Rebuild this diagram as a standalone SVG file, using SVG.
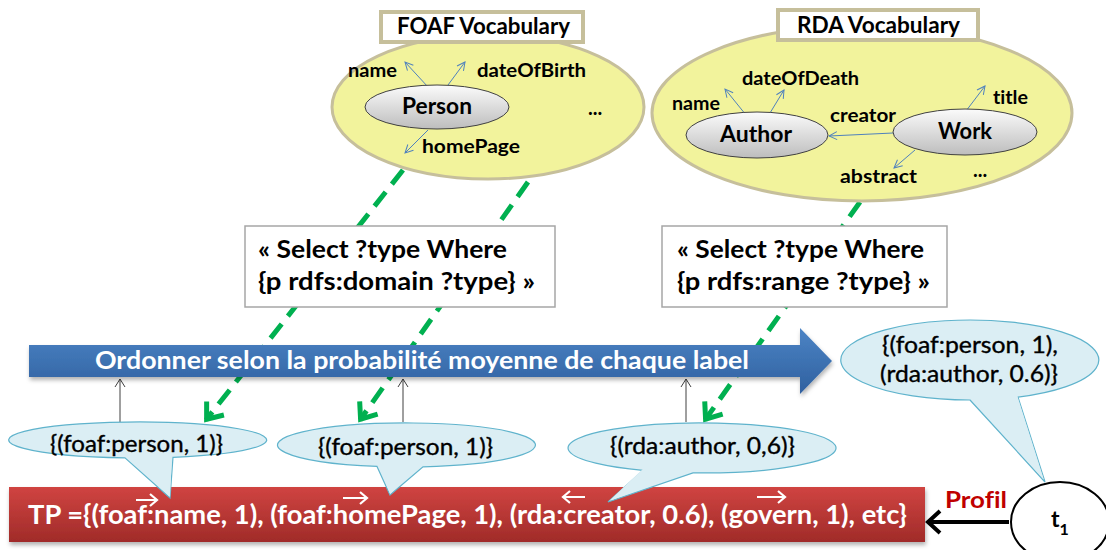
<svg xmlns="http://www.w3.org/2000/svg" width="1106" height="550" viewBox="0 0 1106 550">
<defs>
<style>
.t{font-family:Lato,"Liberation Sans",sans-serif;fill:#000;font-variant-ligatures:none}
.b{font-weight:bold}
.vocab{fill:#f2f39c;stroke:#c6bf9b;stroke-width:3}
.lab{fill:#fff;stroke:#c6bf9b;stroke-width:4}
.cls{fill:url(#gg);stroke:#404040;stroke-width:1}
.prop{font-size:19px;font-weight:bold}
.barr{fill:none;stroke:#4f81bd;stroke-width:1;marker-end:url(#ab)}
.gl{fill:none;stroke:#00b050;stroke-width:5;stroke-dasharray:18 10;marker-end:url(#ag)}
.kl{fill:none;stroke:#404040;stroke-width:1;marker-end:url(#ak)}
.qb{fill:#fff;stroke:#a6a6a6;stroke-width:1.5}
.qt{font-size:25px;font-weight:bold}
.bub{fill:#dbeef4;stroke:#5fb3cc;stroke-width:1.2}
.bt{font-size:23px;stroke:#000;stroke-width:0.35}
.wa{fill:none;stroke:#fff;stroke-width:2.2}
</style>
<linearGradient id="gg" x1="0" y1="0" x2="0" y2="1"><stop offset="0" stop-color="#fbfbfb"/><stop offset="1" stop-color="#bdbdbd"/></linearGradient>
<linearGradient id="blg" x1="0" y1="0" x2="0" y2="1"><stop offset="0" stop-color="#4c84c5"/><stop offset="1" stop-color="#2f609f"/></linearGradient>
<linearGradient id="rg" x1="0" y1="0" x2="0" y2="1"><stop offset="0" stop-color="#d04441"/><stop offset="1" stop-color="#a02b29"/></linearGradient>
<filter id="sh" x="-5%" y="-20%" width="110%" height="150%"><feDropShadow dx="1" dy="3" stdDeviation="2" flood-color="#000" flood-opacity="0.3"/></filter>
<marker id="ab" markerUnits="userSpaceOnUse" markerWidth="10" markerHeight="10" refX="9" refY="5" orient="auto"><path d="M1,1 L9,5 L1,9" fill="none" stroke="#4f81bd" stroke-width="1"/></marker>
<marker id="ak" markerUnits="userSpaceOnUse" markerWidth="10" markerHeight="12" refX="9" refY="6" orient="auto"><path d="M1,1 L9,6 L1,11" fill="none" stroke="#404040" stroke-width="1"/></marker>
<marker id="ag" markerUnits="userSpaceOnUse" markerWidth="26" markerHeight="28" refX="21" refY="14" orient="auto"><path d="M6,3 L20,14 L6,25" fill="none" stroke="#00b050" stroke-width="5" stroke-dasharray="none"/></marker>
</defs>

<g id="connectors">
<path class="gl" d="M403,170 L206,420"/>
<path class="gl" d="M528,182 L360,420"/>
<path class="gl" d="M860,202 L705,420"/>
<path class="kl" d="M120,422 L120,379"/>
<path class="kl" d="M403,422 L403,379"/>
<path class="kl" d="M686,422 L686,379"/>
<path d="M1009,522 L930,522" fill="none" stroke="#000" stroke-width="4"/>
<path d="M940,511 L928,522 L940,533" fill="none" stroke="#000" stroke-width="4"/>
</g>

<g id="foaf">
<ellipse class="vocab" cx="488" cy="107" rx="156" ry="72"/>
<rect class="lab" x="381" y="12" width="202" height="30"/>
<text class="t b" x="397" y="34" font-size="22" textLength="173" lengthAdjust="spacingAndGlyphs">FOAF Vocabulary</text>
<path class="barr" d="M428,87 L405,62"/>
<path class="barr" d="M448,85 L465,62"/>
<path class="barr" d="M428,130 L405,153"/>
<ellipse class="cls" cx="437" cy="107" rx="72" ry="22"/>
<text class="t b" x="402" y="114" font-size="22" textLength="70" lengthAdjust="spacingAndGlyphs">Person</text>
<text class="t prop" x="348" y="77" textLength="49" lengthAdjust="spacingAndGlyphs">name</text>
<text class="t prop" x="477" y="77" textLength="109" lengthAdjust="spacingAndGlyphs">dateOfBirth</text>
<text class="t prop" x="422" y="153" textLength="98" lengthAdjust="spacingAndGlyphs">homePage</text>
<text class="t b" x="588" y="115" font-size="20">...</text>
</g>

<g id="rda">
<ellipse class="vocab" cx="862" cy="113" rx="210" ry="88"/>
<rect class="lab" x="778" y="10" width="200" height="30"/>
<text class="t b" x="797" y="33" font-size="22" textLength="163" lengthAdjust="spacingAndGlyphs">RDA Vocabulary</text>
<path class="barr" d="M746,115 L725,89"/>
<path class="barr" d="M770,113 L784,90"/>
<path class="barr" d="M893,133 L829,136"/>
<path class="barr" d="M966,111 L985,86"/>
<path class="barr" d="M915,150 L894,168"/>
<ellipse class="cls" cx="757" cy="135" rx="71" ry="23"/>
<ellipse class="cls" cx="965" cy="132" rx="72" ry="23"/>
<text class="t b" x="720" y="142" font-size="22" textLength="72" lengthAdjust="spacingAndGlyphs">Author</text>
<text class="t b" x="938" y="139" font-size="22" textLength="54" lengthAdjust="spacingAndGlyphs">Work</text>
<text class="t prop" x="742" y="85" textLength="117" lengthAdjust="spacingAndGlyphs">dateOfDeath</text>
<text class="t prop" x="672" y="110" textLength="48" lengthAdjust="spacingAndGlyphs">name</text>
<text class="t prop" x="830" y="122" textLength="66" lengthAdjust="spacingAndGlyphs">creator</text>
<text class="t prop" x="993" y="104" textLength="35" lengthAdjust="spacingAndGlyphs">title</text>
<text class="t prop" x="840" y="183" textLength="77" lengthAdjust="spacingAndGlyphs">abstract</text>
<text class="t b" x="973" y="177" font-size="20">...</text>
</g>

<g id="query-domain">
<rect class="qb" x="245" y="226" width="310" height="81"/>
<text class="t qt" x="258" y="258" textLength="249" lengthAdjust="spacingAndGlyphs">« Select ?type Where</text>
<text class="t qt" x="258" y="290" textLength="277" lengthAdjust="spacingAndGlyphs">{p rdfs:domain ?type} »</text>
</g>

<g id="query-range">
<rect class="qb" x="662" y="226" width="285" height="81"/>
<text class="t qt" x="677" y="258" textLength="247" lengthAdjust="spacingAndGlyphs">« Select ?type Where</text>
<text class="t qt" x="677" y="290" textLength="253" lengthAdjust="spacingAndGlyphs">{p rdfs:range ?type} »</text>
</g>

<g id="order-arrow">
<path d="M29,345 L800,345 L800,328 L832,361 L800,394 L800,377 L29,377 Z" fill="url(#blg)" filter="url(#sh)"/>
<text class="t b" x="95" y="369" font-size="24" style="fill:#fff" textLength="654" lengthAdjust="spacingAndGlyphs">Ordonner selon la probabilité moyenne de chaque label</text>
</g>

<g id="tp">
<rect x="9" y="487" width="916" height="55" fill="url(#rg)" filter="url(#sh)"/>
<text class="t b" x="28" y="524" font-size="27" style="fill:#fff" textLength="879" lengthAdjust="spacingAndGlyphs">TP ={(foaf:name, 1), (foaf:homePage, 1), (rda:creator, 0.6), (govern, 1), etc}</text>
</g>

<g id="bubble-1">
<path class="bub" d="M125,457.9 L170,498 L173,457.3 A129,18 0 1 0 125,457.9 Z"/>
<path d="M126,456 L170,497 L172,456 Z" fill="#dbeef4"/>
<text class="t bt" x="50" y="452" textLength="173" lengthAdjust="spacingAndGlyphs">{(foaf:person, 1)}</text>
</g>

<g id="bubble-2">
<path class="bub" d="M377,466.4 L390,495 L423,466.8 A129,22 0 1 0 377,466.4 Z"/>
<path d="M378,464 L390,494 L422,464 Z" fill="#dbeef4"/>
<text class="t bt" x="318" y="455" textLength="175" lengthAdjust="spacingAndGlyphs">{(foaf:person, 1)}</text>
</g>

<g id="bubble-3">
<path class="bub" d="M643,470.4 L608,502 L693,472.9 A134,25 0 1 0 643,470.4 Z"/>
<path d="M644,468 L609,501 L692,470 Z" fill="#dbeef4"/>
<text class="t bt" x="610" y="454" textLength="185" lengthAdjust="spacingAndGlyphs">{(rda:author, 0,6)}</text>
</g>

<g id="bubble-profile">
<path class="bub" d="M970,400 L1045,482 L1018,397.1 A129,40 0 1 0 970,400 Z"/>
<path d="M971,397 L1044,480 L1017,395 Z" fill="#dbeef4"/>
<text class="t bt" x="882" y="353" textLength="176" lengthAdjust="spacingAndGlyphs">{(foaf:person, 1),</text>
<text class="t bt" x="880" y="382" textLength="178" lengthAdjust="spacingAndGlyphs">(rda:author, 0.6)}</text>
</g>

<g id="vector-marks">
<path class="wa" d="M136,500 L157,500 M150,494 L157,500 L150,506"/>
<path class="wa" d="M343,498 L367,498 M360,492 L367,498 L360,504"/>
<path class="wa" d="M563,497 L585,497 M570,491 L563,497 L570,503"/>
<path class="wa" d="M757,497 L785,497 M778,491 L785,497 L778,503"/>
</g>

<g id="profil-label">
<text class="t b" x="945" y="508" font-size="23" style="fill:#c00000" textLength="62" lengthAdjust="spacingAndGlyphs">Profil</text>
</g>

<g id="t1">
<ellipse cx="1060" cy="522" rx="49" ry="40" fill="#fff" stroke="#000" stroke-width="2"/>
<text class="t b" x="1051" y="527" font-size="23">t<tspan font-size="16" dy="8">1</tspan></text>
</g>
</svg>
